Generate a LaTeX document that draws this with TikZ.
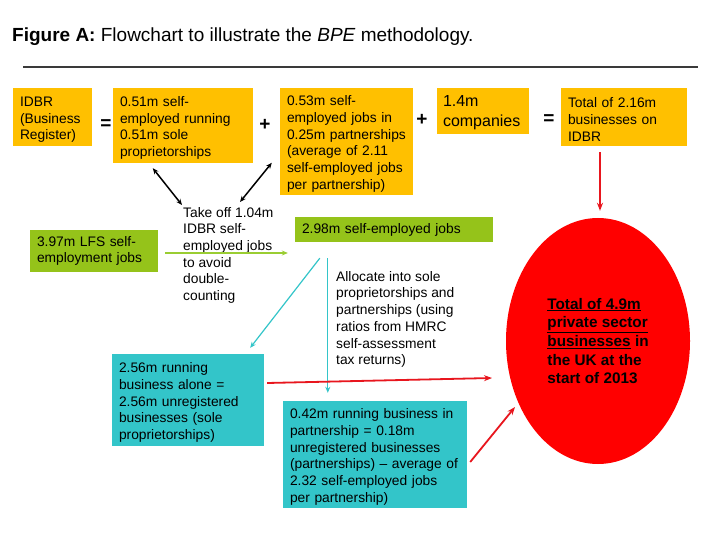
\documentclass[tikz,border=0pt]{standalone}
\usepackage{fontspec}
\setmainfont{Liberation Sans}
\usetikzlibrary{shapes.geometric,arrows.meta,calc}
\definecolor{boxyellow}{HTML}{FFC000}
\definecolor{boxgreen}{HTML}{95C31A}
\definecolor{boxcyan}{HTML}{33C5C9}
\definecolor{arrred}{HTML}{E8161E}
\definecolor{ellred}{HTML}{FF0000}
\definecolor{arrgreen}{HTML}{9ACD32}
\definecolor{rulegray}{HTML}{3A3A3A}
\begin{document}
\begin{tikzpicture}[x=1pt,y=-1pt,
  boxtext/.style={font=\fontsize{13.8}{16.7}\selectfont},
  lowered/.style={execute at begin node={\rule{0pt}{15pt}}},
  ybox/.style={boxtext,lowered,fill=boxyellow,rectangle,inner xsep=7pt,inner ysep=0pt,align=left,draw=none},
  gbox/.style={boxtext,fill=boxgreen,rectangle,inner xsep=7pt,inner ysep=0pt,align=left,draw=none},
  cbox/.style={boxtext,lowered,fill=boxcyan,rectangle,inner xsep=7pt,inner ysep=0pt,align=left,draw=none},
  freetext/.style={boxtext,inner sep=0pt,align=left,anchor=north west},
  opsym/.style={font=\fontsize{19}{19}\selectfont\bfseries,inner sep=0pt},
  blkarr/.style={draw=black,line width=1.5pt,{Stealth[length=6pt,width=5pt]}-{Stealth[length=6pt,width=5pt]}},
  redarr/.style={draw=arrred,line width=1.8pt,-{Stealth[length=8pt,width=6pt]}},
  grnarr/.style={draw=arrgreen,line width=1.2pt,-{Stealth[length=6pt,width=5pt]}},
  cyanarr/.style={draw=boxcyan,line width=1.2pt,-{Stealth[length=6pt,width=5pt]}}
]
\useasboundingbox[fill=white] (0,0) rectangle (723,540);

% title and rule
\node[anchor=west,inner sep=0pt,font=\fontsize{19}{22}\selectfont] (title) at (12,37)
  {\textbf{Figure A:} Flowchart to illustrate the \textit{BPE} methodology.};
\coordinate (ruleL) at (23,67);
\coordinate (ruleR) at (698,67);
\draw[rulegray,line width=1.6pt] (ruleL) -- (ruleR);

% top row
\node[ybox,text width=65pt,minimum height=58pt] (idbr) at (52.5,117) {IDBR\\(Business\\Register)};
\node[opsym] (eq1) at (106,125) {=};
\node[ybox,text width=126pt,minimum height=75pt] (selfemp) at (183,125.5)
  {0.51m self-\\employed running\\0.51m sole\\proprietorships};
\node[opsym] (plus1) at (265,125) {+};
\node[ybox,text width=119pt,minimum height=107pt] (partn) at (346.5,141.5)
  {0.53m self-\\employed jobs in\\0.25m partnerships\\(average of 2.11\\self-employed jobs\\per partnership)};
\node[opsym] (plus2) at (422,120) {+};
\node[ybox,text width=80pt,minimum height=46pt,font=\fontsize{16}{20}\selectfont,inner xsep=6pt] (comp) at (483,111)
  {1.4m\\companies};
\node[opsym] (eq2) at (549,120) {=};
\node[ybox,text width=112pt,minimum height=58pt] (total) at (624,117)
  {Total of 2.16m\\businesses on\\IDBR};

% middle
\node[freetext] (takeoff) at (183,207)
  {Take off 1.04m\\IDBR self-\\employed jobs\\to avoid\\double-\\counting};
\node[gbox,text width=114pt,minimum height=42pt] (lfs) at (94,251)
  {3.97m LFS self-\\employment jobs};
\node[gbox,text width=184pt,minimum height=25pt] (jobs) at (394,229.5)
  {2.98m self-employed jobs};
\node[freetext] (alloc) at (336,271)
  {Allocate into sole\\proprietorships and\\partnerships (using\\ratios from HMRC\\self-assessment\\tax returns)};

% bottom
\node[cbox,text width=138pt,minimum height=92pt] (sole) at (188,400)
  {2.56m running\\business alone =\\2.56m unregistered\\businesses (sole\\proprietorships)};
\node[cbox,text width=170pt,minimum height=107pt] (part2) at (375,454.5)
  {0.42m running business in\\partnership = 0.18m\\unregistered businesses\\(partnerships) -- average of\\2.32 self-employed jobs\\per partnership)};

% ellipse
\node[ellipse,fill=ellred,draw=none,minimum width=184pt,minimum height=246pt,inner sep=0pt,
      align=left,font=\fontsize{15.3}{18.7}\selectfont\bfseries] (bpe) at (598,341)
  {\underline{Total of 4.9m}\\\underline{private sector}\\\underline{businesses} in\\the UK at the\\start of 2013};

% connectors
\draw[blkarr] ([shift={(40,5)}]selfemp.south west) -- ([shift={(-1,-2)}]takeoff.north west);
\draw[blkarr] ([shift={(-8,75)}]partn.north west) -- ([shift={(57,-5)}]takeoff.north west);
\draw[grnarr] ([shift={(7,2)}]lfs.east) -- ([shift={(-7,23.5)}]jobs.west);
\draw[cyanarr] ([shift={(25,16)}]jobs.south west) -- ([shift={(-14,-6)}]sole.north east);
\draw[cyanarr] ([shift={(33,16)}]jobs.south west) -- ([shift={(45,-8)}]part2.north west);
\draw[redarr] ([shift={(-24,6)}]total.south) -- ([shift={(2,-7)}]bpe.north);
\draw[redarr] ([shift={(3,-17)}]sole.east) -- ([shift={(-106,37)}]bpe.center);
\draw[redarr] ([shift={(3,7.5)}]part2.east) -- ([shift={(-83,66)}]bpe.center);
\end{tikzpicture}
\end{document}
